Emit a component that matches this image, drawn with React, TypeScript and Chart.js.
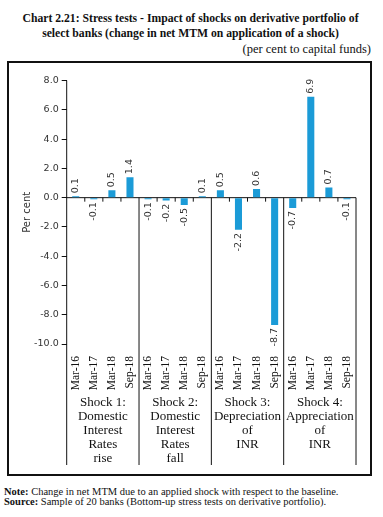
import React, { useEffect, useRef } from "react";
import { Chart, registerables } from "chart.js";

Chart.register(...registerables);

// ---------- data ----------
const periods = ["Mar-16", "Mar-17", "Mar-18", "Sep-18"];
const categories = [...periods, ...periods, ...periods, ...periods];
const shockGroups: string[][] = [
  ["Shock 1:", "Domestic", "Interest", "Rates", "rise"],
  ["Shock 2:", "Domestic", "Interest", "Rates", "fall"],
  ["Shock 3:", "Depreciation", "of", "INR"],
  ["Shock 4:", "Appreciation", "of", "INR"],
];
const shock1 = [0.1, -0.1, 0.5, 1.4];
const shock2 = [-0.1, -0.2, -0.5, 0.1];
const shock3 = [0.5, -2.2, 0.6, -8.7];
const shock4 = [-0.7, 6.9, 0.7, -0.1];
const values = [...shock1, ...shock2, ...shock3, ...shock4];
const yMin = -10;
const yMax = 8;
const yStep = 2;

const titleLines = [
  "Chart 2.21: Stress tests - Impact of shocks on derivative portfolio of",
  "select banks (change in net MTM on application of a shock)",
];
const unitText = "(per cent to capital funds)";
const yTitle = "Per cent";
const noteText = "Change in net MTM due to an applied shock with respect to the baseline.";
const sourceText = "Sample of 20 banks (Bottom-up stress tests on derivative portfolio).";

const BAR_COLOR = "#1b9bd7";
const LINE_COLOR = "#111";
const GROUP_SIZE = periods.length;

const CANVAS_W = 361;
const CANVAS_H = 411;

const axisLinesPlugin = {
  id: "axisLines",
  beforeDatasetsDraw(chart: any) {
    const { ctx, chartArea, scales } = chart;
    const xs = scales.x;
    const ys = scales.y;
    const x2 = scales.x2;
    const zeroY = ys.getPixelForValue(0);
    const lineBottom = x2.bottom - 9;
    const n = categories.length;
    const boundary = (i: number) => {
      if (i <= 0) return chartArea.left;
      if (i >= n) return chartArea.right;
      return (xs.getPixelForValue(i - 1) + xs.getPixelForValue(i)) / 2;
    };
    ctx.save();
    ctx.strokeStyle = LINE_COLOR;
    ctx.lineWidth = 1;
    ctx.beginPath();
    // y axis line
    ctx.moveTo(chartArea.left, chartArea.top);
    ctx.lineTo(chartArea.left, lineBottom);
    // zero line
    ctx.moveTo(chartArea.left, zeroY);
    ctx.lineTo(chartArea.right, zeroY);
    for (let i = 1; i <= n; i++) {
      const bx = boundary(i);
      if (i % GROUP_SIZE === 0) {
        ctx.moveTo(bx, zeroY);
        ctx.lineTo(bx, lineBottom);
      } else {
        ctx.moveTo(bx, zeroY);
        ctx.lineTo(bx, zeroY + 4);
      }
    }
    ctx.stroke();
    ctx.restore();
  },
};

const barLabelPlugin = {
  id: "barLabels",
  afterDatasetsDraw(chart: any) {
    const { ctx } = chart;
    const meta = chart.getDatasetMeta(0);
    ctx.save();
    ctx.font = "9.5px 'DejaVu Sans'";
    ctx.fillStyle = "#333";
    ctx.textBaseline = "middle";
    meta.data.forEach((el: any, i: number) => {
      const v = values[i];
      const { x, y } = el.getProps(["x", "y"], true);
      ctx.save();
      ctx.translate(x, v >= 0 ? y - 3 : y + 3);
      ctx.rotate(-Math.PI / 2);
      ctx.textAlign = v >= 0 ? "left" : "right";
      ctx.fillText(v.toFixed(1), 0, 0);
      ctx.restore();
    });
    ctx.restore();
  },
};

function StressChart() {
  const ref = useRef<HTMLCanvasElement | null>(null);
  useEffect(() => {
    if (!ref.current) return;
    const chart = new Chart(ref.current, {
      type: "bar",
      data: {
        labels: categories,
        datasets: [
          {
            data: values,
            backgroundColor: BAR_COLOR,
            borderWidth: 0,
            barPercentage: 0.39,
            categoryPercentage: 1,
            xAxisID: "x",
            yAxisID: "y",
          },
        ],
      },
      options: {
        responsive: false,
        animation: false,
        devicePixelRatio: 1,
        layout: { padding: { top: 17.6, right: 14, bottom: 0, left: 0 } },
        plugins: {
          legend: { display: false },
          tooltip: { enabled: false },
          title: { display: false },
        },
        scales: {
          x: {
            type: "category",
            position: "bottom",
            weight: 0,
            grid: { display: false },
            border: { display: false },
            ticks: {
              autoSkip: false,
              minRotation: 90,
              maxRotation: 90,
              padding: 4,
              color: "#111",
              font: { family: "'Liberation Serif'", size: 11.5 },
            },
            afterFit: (s: any) => {
              s.height = 50;
            },
          },
          x2: {
            type: "category",
            position: "bottom",
            weight: 1,
            labels: shockGroups as any,
            offset: true,
            grid: { display: false, drawTicks: false },
            border: { display: false },
            ticks: {
              autoSkip: false,
              minRotation: 0,
              maxRotation: 0,
              padding: 2,
              color: "#111",
              font: { family: "'Liberation Serif'", size: 13, lineHeight: 1.07 },
            },
            afterFit: (s: any) => {
              s.height = 80;
            },
          },
          y: {
            min: yMin,
            max: yMax,
            grid: {
              display: true,
              drawOnChartArea: false,
              drawTicks: true,
              tickLength: 5,
              color: LINE_COLOR,
            },
            border: { display: false },
            ticks: {
              stepSize: yStep,
              padding: 3,
              color: "#333",
              font: { family: "'DejaVu Sans'", size: 9.5 },
              callback: (v: any) => Number(v).toFixed(1),
            },
            title: {
              display: true,
              text: yTitle,
              color: "#333",
              padding: { top: 12.7, bottom: 0 },
              font: { family: "'DejaVu Sans'", size: 10 },
            },
            afterFit: (s: any) => {
              s.width = 57.7;
            },
          },
        },
      },
      plugins: [axisLinesPlugin, barLabelPlugin],
    } as any);
    return () => chart.destroy();
  }, []);
  return (
    <canvas
      ref={ref}
      width={CANVAS_W}
      height={CANVAS_H}
      style={{ display: "block", width: CANVAS_W, height: CANVAS_H }}
    />
  );
}

export default function App() {
  return (
    <div
      style={{
        position: "absolute",
        left: 0,
        top: 0,
        width: 383,
        height: 517,
        background: "#fff",
        fontFamily: "'Liberation Serif', serif",
        color: "#111",
      }}
    >
      <div
        style={{
          position: "absolute",
          left: 0,
          top: 10.5,
          width: 381,
          textAlign: "center",
          fontWeight: "bold",
          fontSize: 11.7,
          lineHeight: "15px",
          whiteSpace: "nowrap",
        }}
      >
        {titleLines[0]}
        <br />
        {titleLines[1]}
      </div>
      <div
        style={{
          position: "absolute",
          right: 12,
          top: 41,
          fontSize: 12.5,
          lineHeight: "16px",
          whiteSpace: "nowrap",
        }}
      >
        {unitText}
      </div>
      <div
        style={{
          position: "absolute",
          left: 7,
          top: 61,
          width: 365,
          height: 415,
          boxSizing: "border-box",
          border: "2px solid #111",
        }}
      >
        <StressChart />
      </div>
      <div
        style={{
          position: "absolute",
          left: 4,
          top: 487,
          fontSize: 10.5,
          lineHeight: "10px",
          whiteSpace: "nowrap",
        }}
      >
        <div>
          <b>Note:</b> {noteText}
        </div>
        <div>
          <b>Source:</b> {sourceText}
        </div>
      </div>
    </div>
  );
}
